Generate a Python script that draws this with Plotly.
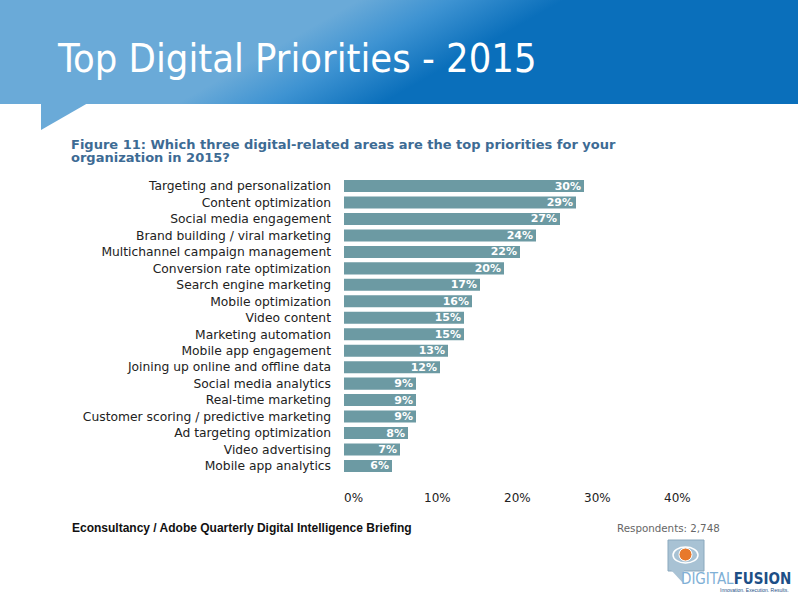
import base64
import plotly.graph_objects as go

# ---------------- data ----------------
categories = [
    "Targeting and personalization",
    "Content optimization",
    "Social media engagement",
    "Brand building / viral marketing",
    "Multichannel campaign management",
    "Conversion rate optimization",
    "Search engine marketing",
    "Mobile optimization",
    "Video content",
    "Marketing automation",
    "Mobile app engagement",
    "Joining up online and offline data",
    "Social media analytics",
    "Real-time marketing",
    "Customer scoring / predictive marketing",
    "Ad targeting optimization",
    "Video advertising",
    "Mobile app analytics",
]
values = [30, 29, 27, 24, 22, 20, 17, 16, 15, 15, 13, 12, 9, 9, 9, 8, 7, 6]
tick_values = [0, 10, 20, 30, 40]
tick_labels = ["0%", "10%", "20%", "30%", "40%"]

title_text = "Top Digital Priorities - 2015"
caption_line1 = "Figure 11: Which three digital-related areas are the top priorities for your"
caption_line2 = "organization in 2015?"
source_text = "Econsultancy / Adobe Quarterly Digital Intelligence Briefing"
respondents_text = "Respondents: 2,748"

W, H = 800, 600


def px(x):
    return x / W


def py(y):
    return 1 - y / H


BAR_COLOR = "#6c9aa3"

fig = go.Figure()
fig.add_trace(go.Bar(
    x=values,
    y=categories,
    orientation="h",
    marker=dict(color=BAR_COLOR, line=dict(width=0)),
    text=[f"{v}%" for v in values],
    textposition="inside",
    insidetextanchor="end",
    constraintext="none",
    textfont=dict(family="DejaVu Sans", size=11, color="white", weight="bold"),
    hoverinfo="skip",
    cliponaxis=False,
))

# banner gradient as SVG image
svg = '''<svg xmlns="http://www.w3.org/2000/svg" width="798" height="104" viewBox="0 0 798 104" preserveAspectRatio="none">
<defs><linearGradient id="g" gradientUnits="userSpaceOnUse" x1="345" y1="8" x2="395" y2="96">
<stop offset="0" stop-color="#6aaad8"/>
<stop offset="0.45" stop-color="#3e93d2"/>
<stop offset="1" stop-color="#0a6fbb"/>
</linearGradient></defs>
<rect x="0" y="0" width="798" height="104" fill="url(#g)"/>
</svg>'''
src = "data:image/svg+xml;base64," + base64.b64encode(svg.encode()).decode()

fig.add_layout_image(dict(
    source=src, xref="paper", yref="paper",
    x=0, y=1, sizex=px(798), sizey=104 / H,
    xanchor="left", yanchor="top", sizing="stretch", layer="below",
))

shapes = [
    # speech-bubble tail
    dict(type="path", xref="paper", yref="paper",
         path=f"M {px(41)} {py(103)} L {px(88)} {py(103)} L {px(41)} {py(130)} Z",
         fillcolor="#6aaad8", line=dict(width=0)),
    # logo icon box
    dict(type="rect", xref="paper", yref="paper",
         x0=px(668), x1=px(704), y0=py(571), y1=py(540),
         fillcolor="#a8c2d4", line=dict(color="#8aa8bd", width=1)),
    dict(type="path", xref="paper", yref="paper",
         path=f"M {px(671)} {py(570)} L {px(683)} {py(583)} L {px(684)} {py(570)} Z",
         fillcolor="#a8c2d4", line=dict(width=0)),
    dict(type="circle", xref="paper", yref="paper",
         x0=px(679), x1=px(692), y0=py(561), y1=py(548),
         fillcolor="#e8792c", line=dict(color="#ffffff", width=1)),
    dict(type="circle", xref="paper", yref="paper",
         x0=px(673), x1=px(698), y0=py(563), y1=py(547),
         fillcolor="rgba(0,0,0,0)", line=dict(color="#ffffff", width=1.5)),
]

annotations = [
    dict(text=title_text, x=px(55), y=py(58), xref="paper", yref="paper",
         xanchor="left", yanchor="middle", showarrow=False,
         font=dict(family="DejaVu Sans Condensed, DejaVu Sans", size=39.5, color="white")),
    dict(text=caption_line1, x=px(69), y=py(144.5), xref="paper", yref="paper",
         xanchor="left", yanchor="middle", align="left", showarrow=False,
         font=dict(family="DejaVu Sans", size=13, color="#3d6b94", weight="bold")),
    dict(text=caption_line2, x=px(69), y=py(157.5), xref="paper", yref="paper",
         xanchor="left", yanchor="middle", align="left", showarrow=False,
         font=dict(family="DejaVu Sans", size=13, color="#3d6b94", weight="bold")),
    dict(text=source_text, x=px(70), y=py(528), xref="paper", yref="paper",
         xanchor="left", yanchor="middle", showarrow=False,
         font=dict(family="Liberation Sans, Arial", size=12, color="#111111", weight="bold")),
    dict(text=respondents_text, x=px(722), y=py(528), xref="paper", yref="paper",
         xanchor="right", yanchor="middle", showarrow=False,
         font=dict(family="DejaVu Sans", size=10.3, color="#666666")),
    dict(text="<span style='color:#7fb0d6'>DIGITAL</span><b style='color:#1d4f86'>FUSION</b>",
         x=px(793), y=py(579), xref="paper", yref="paper",
         xanchor="right", yanchor="middle", showarrow=False,
         font=dict(family="DejaVu Sans Condensed, DejaVu Sans", size=15)),
    dict(text="Innovation. Execution. Results.",
         x=px(791), y=py(590), xref="paper", yref="paper",
         xanchor="right", yanchor="middle", showarrow=False,
         font=dict(family="Liberation Sans, Arial", size=5, color="#1d4f86")),
]

TOP, BOTTOM = 177.8, 474.2
LEFT, RIGHT = 344, 664

fig.update_layout(
    width=W, height=H,
    margin=dict(l=0, r=0, t=0, b=0, autoexpand=False),
    paper_bgcolor="white", plot_bgcolor="white",
    showlegend=False,
    bargap=0.27,
    shapes=shapes,
    annotations=annotations,
    xaxis=dict(
        domain=[px(LEFT), px(RIGHT)],
        range=[0, 40], tickvals=tick_values, ticktext=tick_labels,
        showgrid=False, zeroline=False, showline=False, ticks="",
        ticklabelposition="outside right", ticklabelstandoff=15,
        tickfont=dict(family="DejaVu Sans", size=12, color="#222222"),
        fixedrange=True, automargin=False,
    ),
    yaxis=dict(
        domain=[py(BOTTOM), py(TOP)],
        categoryorder="array", categoryarray=categories, autorange="reversed",
        showgrid=False, zeroline=False, showline=False, ticks="",
        ticklabelstandoff=12,
        tickfont=dict(family="DejaVu Sans", size=12.3, color="#222222"),
        fixedrange=True, automargin=False,
    ),
)

fig.write_html("out.html", config={"displayModeBar": False},
               post_script="document.body.style.margin='0';")
